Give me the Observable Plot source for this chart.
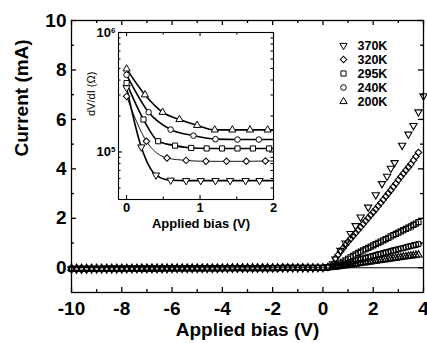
<!DOCTYPE html>
<html><head><meta charset="utf-8">
<script src="https://cdn.jsdelivr.net/npm/d3@7"></script>
<script src="https://cdn.jsdelivr.net/npm/@observablehq/plot@0.6"></script>
<style>
html,body{margin:0;padding:0;background:#fff;}
#wrap{position:relative;width:427px;height:343px;overflow:hidden;}
#wrap svg{position:absolute;overflow:visible;}
</style></head><body><div id="wrap"></div>
<script>
// ---------- data ----------
const seriesNames = ["370K", "320K", "295K", "240K", "200K"];

// reverse / low bias region (V)
const reverseBias = [-10.0,-9.8,-9.6,-9.4,-9.2,-9.0,-8.8,-8.6,-8.4,-8.2,
  -8.0,-7.8,-7.6,-7.4,-7.2,-7.0,-6.8,-6.6,-6.4,-6.2,
  -6.0,-5.8,-5.6,-5.4,-5.2,-5.0,-4.8,-4.6,-4.4,-4.2,
  -4.0,-3.8,-3.6,-3.4,-3.2,-3.0,-2.8,-2.6,-2.4,-2.2,
  -2.0,-1.8,-1.6,-1.4,-1.2,-1.0,-0.8,-0.6,-0.4,-0.2,
  0.0,0.2,0.4];
const rev370K = [-0.06,-0.06,-0.06,-0.06,-0.05,-0.05,-0.05,-0.05,-0.05,-0.05,
  -0.05,-0.04,-0.04,-0.04,-0.04,-0.04,-0.04,-0.04,-0.04,-0.04,
  -0.03,-0.03,-0.03,-0.03,-0.03,-0.03,-0.03,-0.03,-0.03,-0.03,
  -0.02,-0.02,-0.02,-0.02,-0.02,-0.02,-0.02,-0.02,-0.02,-0.02,
  -0.01,-0.01,-0.01,-0.01,-0.01,-0.01,-0.01,-0.01,-0.01,0.00,
  0.00,0.05,0.16];
const rev320K = [-0.05,-0.05,-0.05,-0.05,-0.04,-0.04,-0.04,-0.04,-0.04,-0.04,
  -0.04,-0.03,-0.03,-0.03,-0.03,-0.03,-0.03,-0.03,-0.03,-0.03,
  -0.03,-0.02,-0.02,-0.02,-0.02,-0.02,-0.02,-0.02,-0.02,-0.02,
  -0.02,-0.02,-0.01,-0.01,-0.01,-0.01,-0.01,-0.01,-0.01,-0.01,
  -0.01,-0.01,-0.01,0.00,0.00,0.00,0.00,0.00,0.00,0.00,
  0.00,0.04,0.14];
const rev295K = [-0.04,-0.04,-0.04,-0.04,-0.04,-0.04,-0.04,-0.03,-0.03,-0.03,
  -0.03,-0.03,-0.03,-0.03,-0.03,-0.03,-0.03,-0.03,-0.02,-0.02,
  -0.02,-0.02,-0.02,-0.02,-0.02,-0.02,-0.02,-0.02,-0.02,-0.02,
  -0.01,-0.01,-0.01,-0.01,-0.01,-0.01,-0.01,-0.01,-0.01,-0.01,
  -0.01,-0.01,0.00,0.00,0.00,0.00,0.00,0.00,0.00,0.00,
  0.00,0.02,0.06];
const rev240K = [-0.03,-0.03,-0.03,-0.03,-0.03,-0.03,-0.03,-0.03,-0.03,-0.03,
  -0.02,-0.02,-0.02,-0.02,-0.02,-0.02,-0.02,-0.02,-0.02,-0.02,
  -0.02,-0.02,-0.02,-0.01,-0.01,-0.01,-0.01,-0.01,-0.01,-0.01,
  -0.01,-0.01,-0.01,-0.01,-0.01,-0.01,-0.01,-0.01,0.00,0.00,
  0.00,0.00,0.00,0.00,0.00,0.00,0.00,0.00,0.00,0.00,
  0.00,0.01,0.04];
const rev200K = [-0.02,-0.02,-0.02,-0.02,-0.02,-0.02,-0.02,-0.02,-0.02,-0.02,
  -0.02,-0.02,-0.02,-0.02,-0.01,-0.01,-0.01,-0.01,-0.01,-0.01,
  -0.01,-0.01,-0.01,-0.01,-0.01,-0.01,-0.01,-0.01,-0.01,-0.01,
  -0.01,-0.01,0.00,0.00,0.00,0.00,0.00,0.00,0.00,0.00,
  0.00,0.00,0.00,0.00,0.00,0.00,0.00,0.00,0.00,0.00,
  0.00,0.01,0.03];

// forward bias region
const fwdV370K = [0.5,0.7,0.9,1.1,1.3,1.5,1.8,2.1,2.35,2.55,2.7,2.85,3.15,3.4,3.6,3.8,4.0];
const fwdI370K = [0.35,0.70,1.00,1.38,1.70,2.05,2.45,2.95,3.40,3.70,4.02,4.25,4.95,5.40,5.75,6.30,6.95];
const fwdV = [0.5,0.6,0.7,0.8,0.9,1.0,1.1,1.2,1.3,1.4,
  1.5,1.6,1.7,1.8,1.9,2.0,2.1,2.2,2.3,2.4,
  2.5,2.6,2.7,2.8,2.9,3.0,3.1,3.2,3.3,3.4,
  3.5,3.6,3.7,3.8];
const fwdI320K = [0.38,0.52,0.66,0.79,0.92,1.05,1.17,1.29,1.41,1.53,
  1.65,1.77,1.89,2.01,2.13,2.25,2.37,2.50,2.62,2.75,
  2.88,3.01,3.14,3.28,3.41,3.55,3.68,3.81,3.94,4.07,
  4.20,4.35,4.50,4.66];
const fwdI295K = [0.08,0.13,0.18,0.24,0.30,0.36,0.42,0.48,0.54,0.60,
  0.65,0.70,0.75,0.80,0.86,0.91,0.96,1.01,1.06,1.11,
  1.16,1.21,1.27,1.32,1.37,1.42,1.47,1.52,1.57,1.62,
  1.67,1.73,1.79,1.85];
const fwdI240K = [0.06,0.08,0.11,0.14,0.17,0.20,0.23,0.26,0.29,0.32,
  0.34,0.37,0.40,0.43,0.45,0.48,0.51,0.54,0.56,0.59,
  0.62,0.64,0.67,0.70,0.72,0.75,0.78,0.80,0.83,0.86,
  0.88,0.91,0.93,0.96];
const fwdI200K = [0.03,0.05,0.06,0.08,0.09,0.11,0.12,0.14,0.15,0.17,
  0.18,0.20,0.21,0.23,0.24,0.26,0.27,0.29,0.30,0.32,
  0.33,0.35,0.36,0.38,0.39,0.41,0.42,0.44,0.45,0.47,
  0.48,0.49,0.51,0.52];

// inset: dV/dI (Ohm) vs applied bias (V)
const insetV370K = [0,0.2,0.4,0.6,0.81,1.01,1.21,1.41,1.62,1.81];
const insetR370K = [345e3,110e3,64e3,58e3,57.5e3,57.5e3,57.5e3,57.5e3,57.5e3,57.5e3];
const insetV320K = [0,0.27,0.55,0.81,1.08,1.36,1.63,1.89];
const insetR320K = [292e3,123e3,89e3,85e3,83.5e3,83.5e3,83.5e3,84e3];
const insetV295K = [0,0.23,0.43,0.66,0.88,1.09,1.3,1.51,1.72,1.94];
const insetR295K = [377e3,187e3,123e3,113e3,108e3,107e3,107e3,107e3,107e3,107e3];
const insetV240K = [0,0.3,0.6,0.91,1.21,1.51,1.8];
const insetR240K = [442e3,215e3,154e3,137e3,128e3,127e3,127e3];
const insetV200K = [0,0.25,0.49,0.72,0.96,1.2,1.44,1.68,1.92];
const insetR200K = [496e3,301e3,215e3,187e3,167e3,153e3,153e3,153e3,153e3];
const insetFitEndV = 2;
const insetFitEndR = [57.5e3,84e3,107e3,127e3,153e3];

// ticks
const xTicks = [-10,-8,-6,-4,-2,0,2,4];
const xTickLabels = ["-10","-8","-6","-4","-2","0","2","4"];
const xMinor = [-9,-7,-5,-3,-1,1,3];
const yTicks = [0,2,4,6,8,10];
const yTickLabels = ["0","2","4","6","8","10"];
const yMinor = [1,3,5,7,9];
const insetXTicks = [0,1,2];
const insetXTickLabels = ["0","1","2"];
const insetXMinor = [0.5,1.5];
const insetYTicks = [1e5,1e6];
const insetYTickExp = ["5","6"];
const insetYMinor = [5e4,6e4,7e4,8e4,9e4,2e5,3e5,4e5,5e5,6e5,7e5,8e5,9e5];

// ---------- build tables ----------
const revI = [rev370K, rev320K, rev295K, rev240K, rev200K];
const fwdVs = [fwdV370K, fwdV, fwdV, fwdV, fwdV];
const fwdIs = [fwdI370K, fwdI320K, fwdI295K, fwdI240K, fwdI200K];
const insetVs = [insetV370K, insetV320K, insetV295K, insetV240K, insetV200K];
const insetRs = [insetR370K, insetR320K, insetR295K, insetR240K, insetR200K];

const style = {
  "370K": {symbol: "triangle", rotate: 180, r: 2.7},
  "320K": {symbol: "square", rotate: 45, r: 2.6},
  "295K": {symbol: "square", rotate: 0, r: 2.9},
  "240K": {symbol: "circle", rotate: 0, r: 2.8},
  "200K": {symbol: "triangle", rotate: 0, r: 2.7}
};

const mainData = seriesNames.map((s, k) => {
  const rows = reverseBias.map((v, i) => ({V: v, I: revI[k][i]}));
  fwdVs[k].forEach((v, i) => rows.push({V: v, I: fwdIs[k][i]}));
  return rows;
});
const insetData = seriesNames.map((s, k) => insetVs[k].map((v, i) => ({V: v, R: insetRs[k][i]})));
const insetFit = seriesNames.map((s, k) => insetData[k].concat([{V: insetFitEndV, R: insetFitEndR[k]}]));

const FONT = "'Liberation Sans', Arial, Helvetica, sans-serif";
const wrap = document.getElementById("wrap");

// ---------- main plot ----------
const W = 427, H = 343, mL = 71, mR = 4, mT = 20, mB = 51;
const iH = H - mT - mB, iW = W - mL - mR;
const sw = 1.3;
const main = Plot.plot({
  width: W, height: H,
  marginLeft: mL, marginRight: mR, marginTop: mT, marginBottom: mB,
  style: {fontFamily: FONT, fontSize: "19px", fontWeight: "bold", background: "white", color: "black"},
  x: {domain: [-10, 4], ticks: xTicks, tickFormat: (d) => xTickLabels[xTicks.indexOf(d)], tickSize: 0, tickPadding: 9, label: null},
  y: {domain: [-1, 10], ticks: yTicks, tickFormat: (d) => yTickLabels[yTicks.indexOf(d)], tickSize: 0, tickPadding: 5, label: null},
  marks: [
    Plot.ruleY([0], {stroke: "black", strokeWidth: 1}),
    ...seriesNames.map((s, k) => Plot.dot(mainData[k], {
      x: "V", y: "I", symbol: style[s].symbol, rotate: style[s].rotate, r: style[s].r,
      fill: "none", stroke: "black", strokeWidth: 1.1
    })),
    Plot.tickX(xTicks, {x: (d) => d, insetTop: iH - 5, strokeWidth: sw}),
    Plot.tickX(xTicks, {x: (d) => d, insetBottom: iH - 5, strokeWidth: sw}),
    Plot.tickX(xMinor, {x: (d) => d, insetTop: iH - 3, strokeWidth: sw}),
    Plot.tickX(xMinor, {x: (d) => d, insetBottom: iH - 3, strokeWidth: sw}),
    Plot.tickY(yTicks, {y: (d) => d, insetRight: iW - 5, strokeWidth: sw}),
    Plot.tickY(yTicks, {y: (d) => d, insetLeft: iW - 5, strokeWidth: sw}),
    Plot.tickY(yMinor, {y: (d) => d, insetRight: iW - 3, strokeWidth: sw}),
    Plot.tickY(yMinor, {y: (d) => d, insetLeft: iW - 3, strokeWidth: sw}),
    Plot.frame({stroke: "black", strokeWidth: sw}),
    Plot.text(["Applied bias (V)"], {frameAnchor: "bottom", dy: 43, fontSize: 19, fontWeight: "bold"}),
    Plot.text(["Current (mA)"], {frameAnchor: "left", dx: -50, rotate: -90, fontSize: 19, fontWeight: "bold"})
  ]
});
main.style.left = "0px"; main.style.top = "0px";
wrap.appendChild(main);

// ---------- inset ----------
const IW = 202, IH = 215, imL = 40, imR = 7, imT = 10, imB = 38;
const iiH = IH - imT - imB, iiW = IW - imL - imR;
const isw = 1.1;
const inset = Plot.plot({
  width: IW, height: IH,
  marginLeft: imL, marginRight: imR, marginTop: imT, marginBottom: imB,
  style: {fontFamily: FONT, fontSize: "13px", fontWeight: "bold", background: "transparent", color: "black", overflow: "visible"},
  x: {domain: [-0.11, 2], ticks: insetXTicks, tickFormat: (d) => insetXTickLabels[insetXTicks.indexOf(d)], tickSize: 0, tickPadding: 3, label: null},
  y: {type: "log", domain: [4e4, 1e6], ticks: insetYTicks, tickFormat: (d) => "10^" + insetYTickExp[insetYTicks.indexOf(d)], tickSize: 0, tickPadding: 3, label: null},
  marks: [
    ...seriesNames.map((s, k) => Plot.line(insetFit[k], {
      x: "V", y: "R", curve: "monotone-x", stroke: "black", strokeWidth: s === "320K" ? 0.9 : 1.6
    })),
    ...seriesNames.map((s, k) => Plot.dot(insetData[k], {
      x: "V", y: "R", symbol: style[s].symbol, rotate: style[s].rotate, r: style[s].r,
      fill: "white", stroke: "black", strokeWidth: 1
    })),
    Plot.tickX(insetXTicks, {x: (d) => d, insetTop: iiH - 4, strokeWidth: isw}),
    Plot.tickX(insetXTicks, {x: (d) => d, insetBottom: iiH - 4, strokeWidth: isw}),
    Plot.tickX(insetXMinor, {x: (d) => d, insetTop: iiH - 2.5, strokeWidth: isw}),
    Plot.tickX(insetXMinor, {x: (d) => d, insetBottom: iiH - 2.5, strokeWidth: isw}),
    Plot.tickY(insetYTicks, {y: (d) => d, insetRight: iiW - 4, strokeWidth: isw}),
    Plot.tickY(insetYTicks, {y: (d) => d, insetLeft: iiW - 4, strokeWidth: isw}),
    Plot.tickY(insetYMinor, {y: (d) => d, insetRight: iiW - 2.5, strokeWidth: isw}),
    Plot.tickY(insetYMinor, {y: (d) => d, insetLeft: iiW - 2.5, strokeWidth: isw}),
    Plot.frame({stroke: "black", strokeWidth: isw}),
    Plot.text(["Applied bias (V)"], {frameAnchor: "bottom", dx: 5, dy: 28, fontSize: 13, fontWeight: "bold"}),
    Plot.text(["dV/dI (Ω)"], {frameAnchor: "left", dx: -27, rotate: -90, fontSize: 11, fontWeight: "normal"})
  ]
});
inset.style.left = "78px"; inset.style.top = "22px";
wrap.appendChild(inset);
// superscript exponents on log tick labels
inset.querySelectorAll("text").forEach((t) => {
  const m = /^10\^(\d)$/.exec(t.textContent);
  if (m) {
    t.textContent = "";
    const a = document.createElementNS("http://www.w3.org/2000/svg", "tspan");
    a.textContent = "10";
    const b = document.createElementNS("http://www.w3.org/2000/svg", "tspan");
    b.textContent = m[1];
    b.setAttribute("dy", "-0.5em");
    b.setAttribute("font-size", "8px");
    t.appendChild(a); t.appendChild(b);
  }
});

// ---------- legend ----------
const LW = 80, LH = 77;
const legend = Plot.plot({
  width: LW, height: LH,
  marginLeft: 13, marginRight: 0, marginTop: 9, marginBottom: 9,
  style: {fontFamily: FONT, fontSize: "12.5px", fontWeight: "bold", background: "transparent", color: "black", overflow: "visible"},
  y: {type: "point", domain: seriesNames, padding: 0, axis: null},
  marks: [
    ...seriesNames.map((s) => Plot.dot([s], {
      y: (d) => d, frameAnchor: "left", symbol: style[s].symbol, rotate: style[s].rotate, r: style[s].r,
      fill: "none", stroke: "black", strokeWidth: 1
    })),
    Plot.text(seriesNames, {y: (d) => d, frameAnchor: "left", dx: 14, textAnchor: "start", fontSize: 12.5, fontWeight: "bold"})
  ]
});
legend.style.left = "330px"; legend.style.top = "34px";
wrap.appendChild(legend);
</script></body></html>
